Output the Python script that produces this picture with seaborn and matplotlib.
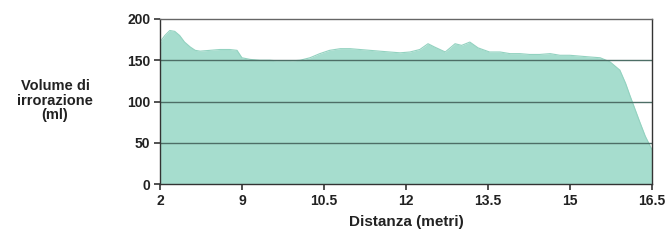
import numpy as np
import pandas as pd
from matplotlib import pyplot as plt
import seaborn as sns

# x tick labels (metres), drawn at equal spacing
tick_labels = ["2", "9", "10.5", "12", "13.5", "15", "16.5"]

# profile sampled along the axis (position in tick units, 0..6) and volume (ml)
pos = [0.00, 0.06, 0.12, 0.18, 0.24, 0.30, 0.37, 0.43, 0.49, 0.61, 0.73, 0.85,
       0.94, 1.00, 1.10, 1.22, 1.34, 1.46, 1.59, 1.71, 1.83, 1.95, 2.07, 2.20,
       2.32, 2.44, 2.56, 2.68, 2.80, 2.93, 3.05, 3.17, 3.27, 3.35, 3.48, 3.60,
       3.68, 3.78, 3.88, 4.02, 4.15, 4.27, 4.39, 4.51, 4.63, 4.76, 4.88, 5.00,
       5.12, 5.24, 5.37, 5.49, 5.61, 5.68, 5.73, 5.79, 5.85, 5.92, 6.00]
volume = [172, 180, 186, 185, 180, 172, 166, 162, 161, 162, 163, 163,
          162, 153, 151, 150, 150, 149, 149, 150, 153, 158, 162, 164,
          164, 163, 162, 161, 160, 159, 160, 163, 170, 166, 160, 170,
          168, 172, 165, 160, 160, 158, 158, 157, 157, 158, 156, 156,
          155, 154, 153, 148, 138, 122, 108, 92, 76, 58, 42]

df = pd.DataFrame({"pos": pos, "volume": volume})

sns.set_style("white")
plt.rcParams["font.family"] = ["Liberation Sans", "DejaVu Sans"]

fig = plt.figure(figsize=(6.72, 2.4), dpi=100)
ax = fig.add_axes([0.238, 0.233, 0.732, 0.688])

fill_col = "#a6ddce"
ax.fill_between(df["pos"], 0, df["volume"], color=fill_col, lw=0, zorder=1)
sns.lineplot(data=df, x="pos", y="volume", ax=ax, color="#93d2c0", lw=0.8, zorder=2)

for yv in [50, 100, 150]:
    ax.axhline(yv, color="#4d6e66", lw=1.0, zorder=3)

ax.set_xlim(0, 6)
ax.set_ylim(0, 200)
ax.set_xticks(range(len(tick_labels)))
ax.set_xticklabels(tick_labels)
ax.set_yticks([0, 50, 100, 150, 200])
for s in ax.spines.values():
    s.set_color("#333333")
    s.set_linewidth(1.0)
    s.set_zorder(4)
ax.spines["top"].set_color("#666666")

ax.tick_params(axis="both", which="both", direction="out", length=4, width=1.2,
               color="#333333", labelsize=10, pad=3)
ax.tick_params(axis="y", left=True)
ax.tick_params(axis="x", bottom=True)
for lab in ax.get_xticklabels() + ax.get_yticklabels():
    lab.set_fontweight("bold")
    lab.set_color("#222222")

ax.set_xlabel("Distanza (metri)", fontsize=11, fontweight="bold", color="#222222", labelpad=5)
ax.set_ylabel("")
fig.text(0.082, 0.58, "Volume di\nirrorazione\n(ml)", ha="center", va="center",
         fontsize=10.5, fontweight="bold", color="#222222", linespacing=1.05)

plt.savefig("out.png", dpi=100)
